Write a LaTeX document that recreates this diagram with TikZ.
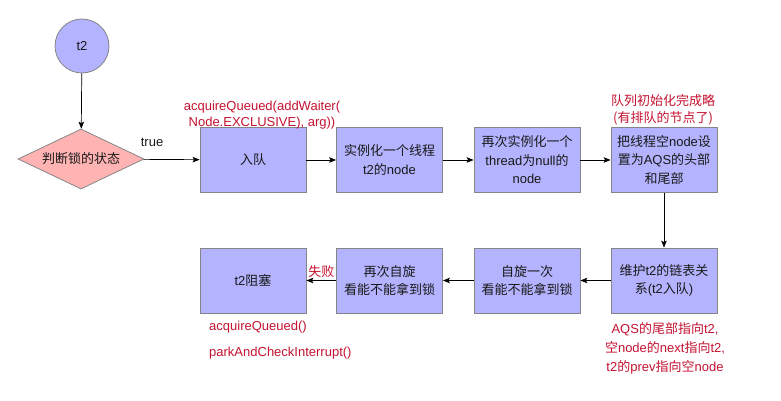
\documentclass[tikz,border=0pt]{standalone}
\usepackage{fontspec}
\setmainfont{Liberation Sans}
\newfontfamily\cjk{Noto Sans CJK SC}
\usetikzlibrary{shapes.geometric,arrows.meta}
\definecolor{boxfill}{HTML}{B3B3FF}
\definecolor{boxline}{HTML}{858585}
\definecolor{diafill}{HTML}{FFB3B3}
\definecolor{notered}{HTML}{C41230}
\newcommand{\zh}[1]{{\cjk #1}}

\begin{document}
\begin{tikzpicture}[x=1pt, y=-1pt,
  txt/.style={font=\fontsize{13pt}{18.5pt}\selectfont, align=center, text=black!90},
  stepbox/.style={txt, draw=boxline, fill=boxfill, line width=0.8pt, minimum width=106pt, minimum height=65pt, inner sep=1pt},
  decide/.style={txt, diamond, aspect=2.1, draw=boxline, fill=diafill, line width=0.8pt, minimum width=126pt, minimum height=60pt, inner sep=0pt},
  note/.style={font=\fontsize{13pt}{#1}\selectfont, align=center, text=notered, inner sep=0pt},
  note/.default=19pt,
  arr/.style={-{Stealth[length=7pt, width=5.5pt, inset=1.5pt]}, line width=0.7pt}]
\useasboundingbox (0,0) rectangle (781,401);

% start and decision
\node[txt, circle, draw=boxline, fill=boxfill, line width=0.8pt, minimum size=54pt] (start) at (82,46) {t2};
\node[decide] (judge) at (81,159) {\zh{判断锁的状态}};

% upper row
\node[stepbox] (enq) at (253,160) {\zh{入队}};
\node[stepbox] (newnode) at (389.5,160) {\zh{实例化一个线程}\\t2\zh{的}node};
\node[stepbox] (nullnode) at (527,160) {\zh{再次实例化一个}\\thread\zh{为}null\zh{的}\\node};
\node[stepbox] (sethead) at (664,160) {\zh{把线程空}node\zh{设}\\\zh{置为}AQS\zh{的头部}\\\zh{和尾部}};

% lower row
\node[stepbox] (link) at (664,280.5) {\zh{维护}t2\zh{的链表关}\\\zh{系}(t2\zh{入队})};
\node[stepbox] (spinone) at (527,280.5) {\zh{自旋一次}\\\zh{看能不能拿到锁}};
\node[stepbox] (spintwo) at (389.5,280.5) {\zh{再次自旋}\\\zh{看能不能拿到锁}};
\node[stepbox] (park) at (253,280.5) {t2\zh{阻塞}};

% red notes
\node[note=16pt] (acqnote) at (262,115) {acquireQueued(addWaiter(\\Node.EXCLUSIVE), arg))};
\node[note=17pt] (initnote) at (663,110) {\zh{队列初始化完成略}\\\zh{(有排队的节点了)}};
\node[note, anchor=west] (acqcall) at (209,327) {acquireQueued()};
\node[note, anchor=west] (parkcall) at (209,353) {parkAndCheckInterrupt()};
\node[note] (linknote) at (665,348) {AQS\zh{的尾部指向}t2,\\\zh{空}node\zh{的}next\zh{指向}t2,\\t2\zh{的}prev\zh{指向空}node};

% connectors
\draw[arr] (start) -- (judge);
\draw[arr] (judge) -- node[pos=0.15, above=12pt, txt, inner sep=0pt] (truelbl) {true} (enq);
\draw[arr] (enq) -- (newnode);
\draw[arr] (newnode) -- (nullnode);
\draw[arr] (nullnode) -- (sethead);
\draw[arr] (sethead) -- (link);
\draw[arr] (link) -- (spinone);
\draw[arr] (spinone) -- (spintwo);
\draw[arr] (spintwo) -- node[above=3pt, note] (faillbl) {\zh{失败}} (park);
\end{tikzpicture}
\end{document}
